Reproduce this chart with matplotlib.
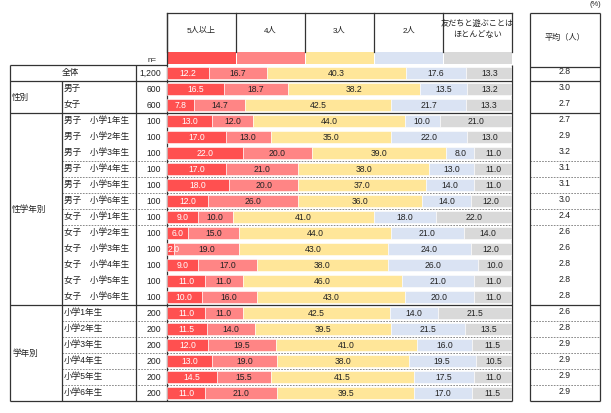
import numpy as np
import matplotlib
matplotlib.use("Agg")
import matplotlib.pyplot as plt
from matplotlib.patches import Rectangle

plt.rcParams['font.family'] = ['Liberation Sans', 'Noto Sans CJK JP', 'DejaVu Sans']

# data
categories = ['5人以上', '4人', '3人', '2人', '友だちと遊ぶことは\nほとんどない']
colors = ['#FF5050', '#FF8585', '#FFE699', '#DAE3F3', '#D9D9D9']

row_labels = ['全体', '男子', '女子',
              '男子　小学1年生', '男子　小学2年生', '男子　小学3年生',
              '男子　小学4年生', '男子　小学5年生', '男子　小学6年生',
              '女子　小学1年生', '女子　小学2年生', '女子　小学3年生',
              '女子　小学4年生', '女子　小学5年生', '女子　小学6年生',
              '小学1年生', '小学2年生', '小学3年生',
              '小学4年生', '小学5年生', '小学6年生']
n_values = ['1,200', '600', '600'] + ['100'] * 12 + ['200'] * 6

five_plus = [12.2, 16.5, 7.8, 13.0, 17.0, 22.0, 17.0, 18.0, 12.0, 9.0, 6.0, 2.0, 9.0, 11.0, 10.0,
             11.0, 11.5, 12.0, 13.0, 14.5, 11.0]
four = [16.7, 18.7, 14.7, 12.0, 13.0, 20.0, 21.0, 20.0, 26.0, 10.0, 15.0, 19.0, 17.0, 11.0, 16.0,
        11.0, 14.0, 19.5, 19.0, 15.5, 21.0]
three = [40.3, 38.2, 42.5, 44.0, 35.0, 39.0, 38.0, 37.0, 36.0, 41.0, 44.0, 43.0, 38.0, 46.0, 43.0,
         42.5, 39.5, 41.0, 38.0, 41.5, 39.5]
two = [17.6, 13.5, 21.7, 10.0, 22.0, 8.0, 13.0, 14.0, 14.0, 18.0, 21.0, 24.0, 26.0, 21.0, 20.0,
       14.0, 21.5, 16.0, 19.5, 17.5, 17.0]
rarely = [13.3, 13.2, 13.3, 21.0, 13.0, 11.0, 11.0, 11.0, 12.0, 22.0, 14.0, 12.0, 10.0, 11.0, 11.0,
          21.5, 13.5, 11.5, 10.5, 11.0, 11.5]
averages = [2.8, 3.0, 2.7, 2.7, 2.9, 3.2, 3.1, 3.1, 3.0, 2.4, 2.6, 2.6, 2.8, 2.8, 2.8,
            2.6, 2.8, 2.9, 2.9, 2.9, 2.9]

groups = [('性別', 1, 2), ('性学年別', 3, 14), ('学年別', 15, 20)]

W, H = 611, 413
TXT = '#222222'
LINE = '#333333'
FS = 6.2

# layout in pixels
x_left, x_cat, x_n, x_bar0, x_bar1 = 10, 62, 136, 167, 512
x_avg0, x_avg1 = 530, 600
y_head, y_strip0, y_strip1 = 13, 52, 64
y_top, row_h = 65, 16
n_rows = len(row_labels)
y_bot = y_top + n_rows * row_h


def ry(i):
    return y_top + (i + 0.5) * row_h


fig = plt.figure(figsize=(W / 100, H / 100), dpi=100)
bg = fig.add_axes([0, 0, 1, 1])
bg.set_xlim(0, W)
bg.set_ylim(H, 0)
bg.axis('off')

# bar axes
ax = fig.add_axes([x_bar0 / W, (H - y_bot) / H, (x_bar1 - x_bar0) / W, (y_bot - y_top) / H])
ax.set_xlim(0, 100)
ax.set_ylim(n_rows - 0.5, -0.5)
ax.axis('off')
ax.patch.set_alpha(0)

series = [five_plus, four, three, two, rarely]
pos = np.arange(n_rows)
left = np.zeros(n_rows)
for k, vals in enumerate(series):
    vals = np.array(vals)
    ax.barh(pos, vals, left=left, height=0.75, color=colors[k], edgecolor='white', linewidth=0.4)
    for i, v in enumerate(vals):
        if v < 4:
            # too narrow: excel pushes the label to the bar start
            ax.text(left[i] + 0.1, i, f'{v:.1f}', ha='left', va='center', fontsize=FS,
                    color='white' if k == 0 else TXT, zorder=6)
        else:
            ax.text(left[i] + v / 2, i, f'{v:.1f}', ha='center', va='center', fontsize=FS,
                    color='white' if k == 0 else TXT, zorder=6)
    left += vals

# header
col_w = (x_bar1 - x_bar0) / len(categories)
bg.plot([x_bar0, x_bar1], [y_head, y_head], color=LINE, lw=0.9)
for k, cat in enumerate(categories):
    cx0 = x_bar0 + k * col_w
    bg.plot([cx0, cx0], [y_head, y_strip0], color=LINE, lw=0.9)
    bg.text(cx0 + col_w / 2, 31 if '\n' not in cat else 29.5, cat, ha='center', va='center',
            fontsize=FS - 0.3, color=TXT, linespacing=1.5)
    bg.add_patch(Rectangle((cx0 + 0.5, y_strip0), col_w - 1, y_strip1 - y_strip0,
                           facecolor=colors[k], edgecolor='none'))
bg.plot([x_bar1, x_bar1], [y_head, y_strip0], color=LINE, lw=0.9)

bg.text(152, 61, 'n=', ha='center', va='center', fontsize=FS - 0.5, color=TXT)
bg.text(601, 5, '(%)', ha='right', va='center', fontsize=FS - 0.8, color=TXT)

# average box header
bg.text((x_avg0 + x_avg1) / 2, 38, '平均（人）', ha='center', va='center', fontsize=FS - 0.3, color=TXT)

# rows text
for i, lab in enumerate(row_labels):
    if i == 0:
        bg.text(70, ry(i), lab, ha='center', va='center', fontsize=FS, color=TXT)
    else:
        bg.text(x_cat + 2, ry(i) - 1, lab, ha='left', va='center', fontsize=FS, color=TXT)
    bg.text(x_bar0 - 6, ry(i), n_values[i], ha='right', va='center', fontsize=FS, color=TXT)
    bg.text((x_avg0 + x_avg1) / 2, ry(i) - 1, f'{averages[i]:.1f}', ha='center', va='center',
            fontsize=FS, color=TXT)

for name, a, b in groups:
    bg.text(x_left + 2, (ry(a) + ry(b)) / 2, name, ha='left', va='center', fontsize=FS, color=TXT)

# table lines
def hline(y, x0, x1, **kw):
    bg.plot([x0, x1], [y, y], **kw)


solid = dict(color=LINE, lw=0.9, solid_capstyle='butt')
dashed = dict(color='#777777', lw=0.6, ls=(0, (2, 1.5)))

hline(y_top, x_left, x_bar0, **solid)
hline(y_top + 2, x_avg0, x_avg1, **solid)
hline(y_head, x_avg0, x_avg1, **solid)
for r in [1, 3, 15, n_rows]:
    y = y_top + r * row_h
    hline(y, x_left, x_bar1, **solid)
    hline(y, x_avg0, x_avg1, **solid)
for r in [6, 7, 8, 9, 10, 16, 17, 18, 19, 20]:
    y = y_top + r * row_h
    hline(y, x_cat, x_bar1, **dashed)
    hline(y, x_avg0, x_avg1, **dashed)

bg.plot([x_left, x_left], [y_top, y_bot], **solid)
bg.plot([x_cat, x_cat], [y_top + row_h, y_bot], **solid)
bg.plot([x_n, x_n], [y_top, y_bot], **solid)
bg.plot([x_bar0, x_bar0], [y_head, y_bot], **solid)
bg.plot([x_bar1, x_bar1], [y_top, y_bot], **solid)
bg.plot([x_avg0, x_avg0], [y_head, y_bot], **solid)
bg.plot([x_avg1, x_avg1], [y_head, y_bot], **solid)

fig.savefig('out.png', dpi=100)
